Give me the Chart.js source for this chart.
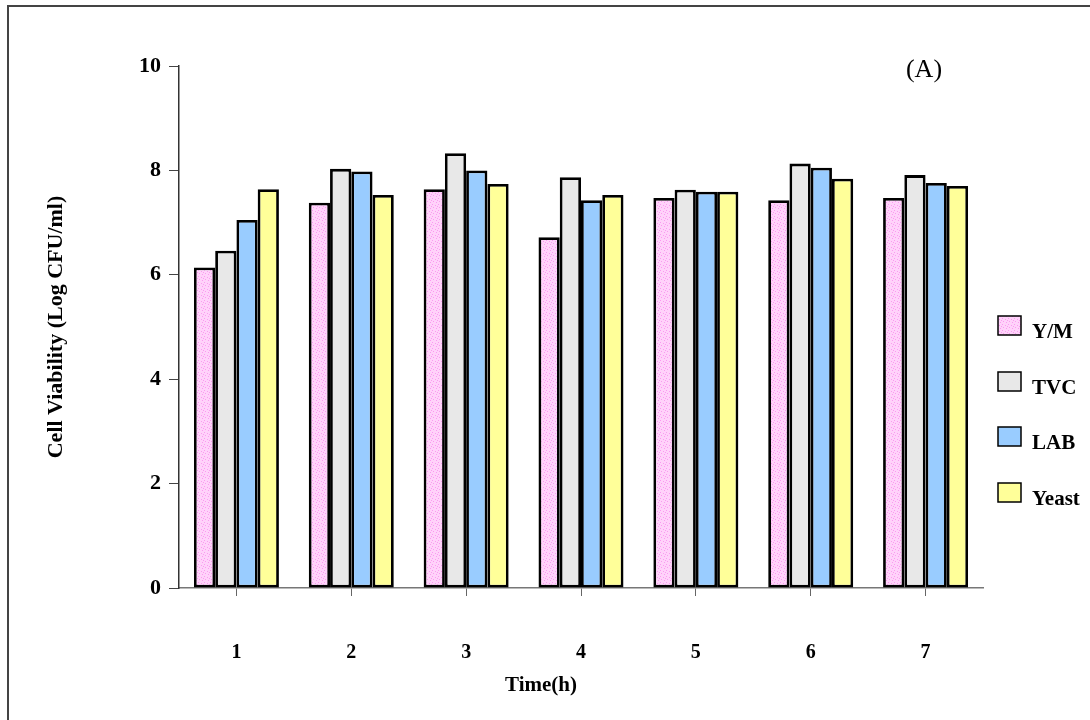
<!DOCTYPE html>
<html>
<head>
<meta charset="utf-8">
<script src="https://cdn.jsdelivr.net/npm/chart.js@4"></script>
<style>
  html, body { margin: 0; padding: 0; background: #fff; }
  #wrap { width: 1090px; height: 720px; position: relative; }
</style>
</head>
<body>
<div id="wrap"><canvas id="viabilityChart" width="1090" height="720"></canvas></div>
<script>
// Data
const hours = ['1', '2', '3', '4', '5', '6', '7'];
const ymCounts    = [6.14, 7.38, 7.64, 6.72, 7.47, 7.43, 7.47];
const tvcCounts   = [6.46, 8.03, 8.33, 7.87, 7.63, 8.13, 7.91];
const labCounts   = [7.05, 7.98, 8.00, 7.43, 7.59, 8.05, 7.76];
const yeastCounts = [7.64, 7.53, 7.74, 7.53, 7.59, 7.84, 7.70];
const yTicks = [0, 2, 4, 6, 8, 10];

const serif = '"Liberation Serif", "DejaVu Serif", serif';

// dotted pink fill used for the Y/M bars
function makeDotPattern() {
    const c = document.createElement('canvas');
    c.width = 6; c.height = 6;
    const g = c.getContext('2d');
    g.fillStyle = '#ffd2fa';
    g.fillRect(0, 0, 6, 6);
    g.fillStyle = '#f99cf0';
    [[0, 0], [3, 1], [1, 3], [4, 4], [5, 2]].forEach(p => g.fillRect(p[0], p[1], 1, 1));
    return g.createPattern(c, 'repeat');
}
const ymFill = makeDotPattern();

// legend, frame, x title and panel letter
const decorations = {
    id: 'decorations',
    afterDraw(chart) {
        const ctx = chart.ctx;
        ctx.save();
        // frame
        ctx.strokeStyle = '#444';
        ctx.lineWidth = 2;
        ctx.beginPath();
        ctx.moveTo(8, 730);
        ctx.lineTo(8, 6);
        ctx.lineTo(1100, 6);
        ctx.stroke();

        ctx.fillStyle = '#000';
        ctx.font = '26px ' + serif;
        ctx.textAlign = 'center';
        ctx.textBaseline = 'middle';
        ctx.fillText('(A)', 924, 70);

        // x axis title sits a bit left of the axis centre in the original
        ctx.font = 'bold 21px ' + serif;
        ctx.textBaseline = 'alphabetic';
        ctx.fillText('Time(h)', 541, 691);

        // legend
        const tops = [316, 372, 427, 483];
        ctx.textAlign = 'left';
        chart.data.datasets.forEach((ds, i) => {
            const y = tops[i];
            ctx.fillStyle = ds.backgroundColor;
            ctx.fillRect(998, y, 23, 19);
            ctx.strokeStyle = '#000';
            ctx.lineWidth = 1.5;
            ctx.strokeRect(998, y, 23, 19);
            ctx.fillStyle = '#000';
            ctx.fillText(ds.label, 1032, y + 22);
        });
        ctx.restore();
    }
};

function initViabilityChart() {
    const ctx = document.getElementById('viabilityChart');

    const chart = new Chart(ctx, {
        type: 'bar',
        data: {
            labels: hours,
            datasets: [
                { label: 'Y/M',   data: ymCounts,    backgroundColor: ymFill },
                { label: 'TVC',   data: tvcCounts,   backgroundColor: '#e8e8e8' },
                { label: 'LAB',   data: labCounts,   backgroundColor: '#99ccff' },
                { label: 'Yeast', data: yeastCounts, backgroundColor: '#ffff99' }
            ]
        },
        options: {
            responsive: false,
            animation: false,
            layout: {
                padding: { left: 0, top: 66, right: 107, bottom: 0 }
            },
            datasets: {
                bar: {
                    borderColor: '#000',
                    borderWidth: 2.8,
                    borderSkipped: false,
                    barPercentage: 1.0,
                    categoryPercentage: 0.74
                }
            },
            scales: {
                x: {
                    offset: true,
                    grid: {
                        offset: false,
                        drawOnChartArea: false,
                        drawTicks: true,
                        tickLength: 8,
                        color: '#666'
                    },
                    border: { display: true, color: '#777', width: 1.5 },
                    ticks: {
                        color: '#000',
                        padding: 45,
                        font: { family: serif, size: 20, weight: 'bold' }
                    },
                    afterFit(scale) { scale.height = 132; }
                },
                y: {
                    min: 0,
                    max: 10,
                    afterBuildTicks(scale) {
                        scale.ticks = yTicks.map(v => ({ value: v }));
                    },
                    grid: {
                        drawOnChartArea: false,
                        drawTicks: true,
                        tickLength: 10,
                        color: '#444'
                    },
                    border: { display: true, color: '#333', width: 1.5 },
                    ticks: {
                        color: '#000',
                        padding: 8,
                        font: { family: serif, size: 22, weight: 'bold' }
                    },
                    title: {
                        display: true,
                        text: 'Cell Viability (Log CFU/ml)',
                        color: '#000',
                        font: { family: serif, size: 22, weight: 'bold' },
                        padding: { top: 43, bottom: 43 }
                    },
                    afterFit(scale) { scale.width = 179; }
                }
            },
            plugins: {
                legend: { display: false },
                tooltip: { enabled: false }
            }
        },
        plugins: [decorations]
    });
}

document.addEventListener('DOMContentLoaded', initViabilityChart);
</script>
</body>
</html>
